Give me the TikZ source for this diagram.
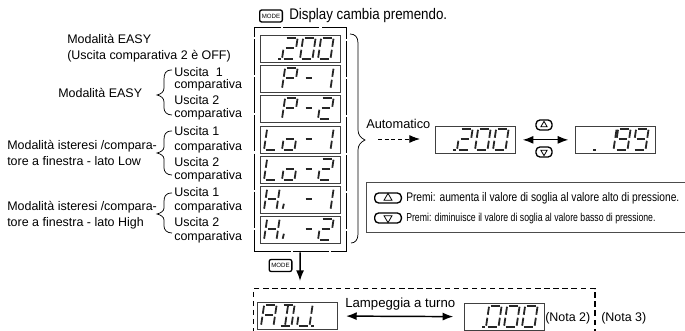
\documentclass[tikz,border=0pt]{standalone}
\usepackage{fontspec}
\setmainfont{Liberation Sans}
\usetikzlibrary{shapes.geometric,arrows.meta}
% seven segment pieces, local units, base line of the digit at 0
\def\sega{(1.5,-21) -- (11,-21)}
\def\segb{(12.5,-20) -- (12.5,-12)}
\def\segc{(12.5,-9) -- (12.5,-1)}
\def\segd{(1.5,0) -- (11,0)}
\def\sege{(0,-9) -- (0,-1)}
\def\segf{(0,-20) -- (0,-12)}
\def\segg{(2,-10.5) -- (10.5,-10.5)}
\def\segh{(6,-20) -- (6,-12)}
\def\segi{(6,-9) -- (6,-1)}
\def\segj{(1,-6) -- (.5,-1)}
\def\segk{(-3.6,0) -- (-1.4,0)}
\def\segm{(4,-10.5) -- (10,-10.5)}
\newcommand{\segdigit}[3]{%
  \begin{scope}[shift={(#1.south west)},shift={(#2,-4)},xslant=.15]
    \foreach \segname in {#3} {\draw[seg] \csname seg\segname\endcsname;}
  \end{scope}}
\newcommand{\narrowtext}[2][.8]{\scalebox{#1}[1]{#2}}
\tikzset{
  seg/.style={line width=1.35pt,black!85},
  lcd/.style={draw,black!75,line width=.8pt,anchor=north west,inner sep=0,minimum width=60pt,minimum height=20pt},
  lbl/.style={anchor=base west,inner sep=0,font=\fontsize{9.35}{11}\selectfont},
  brace/.style={line width=.55pt},
  modekey/.style={draw,line width=1pt,rounded corners=1.5pt,inner sep=0,minimum width=17pt,minimum height=9pt,font=\fontsize{4.6}{5}\selectfont},
  arrowkey/.style={draw,line width=1pt,rounded corners=3pt,inner sep=0},
  triup/.style={draw,regular polygon,regular polygon sides=3,inner sep=0,minimum size=#1,line width=.6pt},
  tridown/.style={triup=#1,shape border rotate=180},
  bigtip/.style={-{Latex[length=8pt,width=6pt]}},
  bothtip/.style={{Latex[length=8pt,width=6pt]}-{Latex[length=8pt,width=6pt]}},
}
\begin{document}
\begin{tikzpicture}[x=.75pt,y=-.75pt]
  \clip (0,0) rectangle (685,331);
  % mode key on top
  \node[modekey] (modetop) at (271,16) {MODE};
  \node[lbl,font=\fontsize{11.5}{12}\selectfont] (modetext) at (289,20) {\narrowtext[.87]{Display cambia premendo.}};
  % frame with the seven displays
  \node[draw,line width=1pt,dash pattern=on 27pt off 1.6pt,anchor=north west,inner sep=0,minimum width=69pt,minimum height=168pt] (frame) at (254,27) {};
  \node[lcd] (lcdmain) at (260,35) {};
  \node[lcd] (lcdpa) at (260,65) {};
  \node[lcd] (lcdpb) at (260,95) {};
  \node[lcd] (lcdloa) at (260,126) {};
  \node[lcd] (lcdlob) at (260,156) {};
  \node[lcd] (lcdhia) at (260,186) {};
  \node[lcd] (lcdhib) at (260,216) {};
  % digits
  \segdigit{lcdmain}{22}{k,a,b,g,e,d}
  \segdigit{lcdmain}{40}{a,b,c,d,e,f}
  \segdigit{lcdmain}{58}{a,b,c,d,e,f}
  \segdigit{lcdpa}{22}{a,b,g,e,f}
  \segdigit{lcdpa}{40}{m}
  \segdigit{lcdpa}{58}{b,c}
  \segdigit{lcdpb}{22}{a,b,g,e,f}
  \segdigit{lcdpb}{40}{m}
  \segdigit{lcdpb}{58}{a,b,g,e,d}
  \segdigit{lcdloa}{4}{d,e,f}
  \segdigit{lcdloa}{22}{c,d,e,g}
  \segdigit{lcdloa}{40}{m}
  \segdigit{lcdloa}{58}{b,c}
  \segdigit{lcdlob}{4}{d,e,f}
  \segdigit{lcdlob}{22}{c,d,e,g}
  \segdigit{lcdlob}{40}{m}
  \segdigit{lcdlob}{58}{a,b,g,e,d}
  \segdigit{lcdhia}{4}{b,c,e,f,g}
  \segdigit{lcdhia}{22}{j}
  \segdigit{lcdhia}{40}{m}
  \segdigit{lcdhia}{58}{b,c}
  \segdigit{lcdhib}{4}{b,c,e,f,g}
  \segdigit{lcdhib}{22}{j}
  \segdigit{lcdhib}{40}{m}
  \segdigit{lcdhib}{58}{a,b,g,e,d}
  % labels on the left
  \node[lbl] (easytop) at (67,44) {Modalità EASY};
  \node[lbl] (easyoff) at (67,60) {(Uscita comparativa 2 è OFF)};
  \node[lbl] (easy) at (58,98) {Modalità EASY};
  \node[lbl] (lowa) at (7,150) {Modalità isteresi /compara-};
  \node[lbl] (lowb) at (7,166) {tore a finestra - lato Low};
  \node[lbl] (higha) at (7,211) {Modalità isteresi /compara-};
  \node[lbl] (highb) at (7,227) {tore a finestra - lato High};
  \node[lbl] (ua) at (174,77) {Uscita\ \ 1};
  \node[lbl] (ub) at (174,89) {comparativa};
  \node[lbl] (uc) at (174,105) {Uscita 2};
  \node[lbl] (ud) at (174,118) {comparativa};
  \node[lbl] (ue) at (174,136) {Uscita 1};
  \node[lbl] (uf) at (174,151) {comparativa};
  \node[lbl] (ug) at (174,167) {Uscita 2};
  \node[lbl] (uh) at (174,180) {comparativa};
  \node[lbl] (ui) at (174,197) {Uscita 1};
  \node[lbl] (uj) at (174,211) {comparativa};
  \node[lbl] (uk) at (174,227) {Uscita 2};
  \node[lbl] (ul) at (174,241) {comparativa};
  % left braces
  \draw[brace] (172,70) .. controls (165,70) and (164,74) .. (164,80) -- (164,88) .. controls (164,92) and (161,94) .. (157,95) .. controls (161,96) and (164,98) .. (164,102) -- (164,108) .. controls (164,112) and (167,115) .. (172,115);
  \draw[brace] (172,131) .. controls (165,131) and (164,135) .. (164,140) -- (164,147) .. controls (164,150) and (161,152) .. (157,153) .. controls (161,154) and (164,156) .. (164,159) -- (164,168) .. controls (164,172) and (167,175) .. (172,175);
  \draw[brace] (172,193) .. controls (165,193) and (164,197) .. (164,202) -- (164,208) .. controls (164,211) and (161,213) .. (157,214) .. controls (161,215) and (164,217) .. (164,220) -- (164,226) .. controls (164,230) and (167,233) .. (172,233);
  % big brace on the right
  \coordinate (bracetop) at (350,34);
  \coordinate (bracetip) at (365,140);
  \coordinate (bracebot) at (351,243);
  \draw[brace] (bracetop) .. controls (355,34) and (358,37) .. (358,43) -- (358,130) .. controls (358,135) and (361,138) .. (bracetip) .. controls (361,142) and (358,145) .. (358,150) -- (358,234) .. controls (358,240) and (355,243) .. (bracebot);
  % automatic change
  \node[lbl,font=\fontsize{9.6}{11}\selectfont] (auto) at (366,129) {Automatico};
  \coordinate (autoa) at (378,139);
  \coordinate (autob) at (420,139);
  \draw[densely dashed,line width=.7pt,bigtip] (autoa) -- (autob);
  \node[lcd] (lcdauto) at (435,126) {};
  \node[lcd] (lcdnext) at (575,126) {};
  \segdigit{lcdauto}{22}{k,a,b,g,e,d}
  \segdigit{lcdauto}{40}{a,b,c,d,e,f}
  \segdigit{lcdauto}{58}{a,b,c,d,e,f}
  \segdigit{lcdnext}{22}{k}
  \segdigit{lcdnext}{26}{b,c}
  \segdigit{lcdnext}{40}{a,b,c,d,f,g}
  \segdigit{lcdnext}{58}{a,b,c,d,f,g}
  \draw[line width=.9pt,bothtip,shorten <=5pt,shorten >=5pt] (lcdauto) -- (lcdnext);
  \node[arrowkey,minimum width=12pt,minimum height=7.5pt] (keyup) at (544,125) {};
  \node[triup=5.5pt] (triupa) at (544,125) {};
  \node[arrowkey,minimum width=12pt,minimum height=7.5pt] (keydown) at (544,152) {};
  \node[tridown=5.5pt] (tridowna) at (544,152) {};
  % panel with the two keys
  \node[draw,black!70,line width=.8pt,anchor=north west,inner sep=0,minimum width=250pt,minimum height=37.5pt] (panel) at (366,182) {};
  \node[arrowkey,minimum width=20pt,minimum height=7.5pt] (keyupb) at (388,198) {};
  \node[triup=7pt] (triupb) at (388,198) {};
  \node[arrowkey,minimum width=20pt,minimum height=7.5pt] (keydownb) at (388,218) {};
  \node[tridown=7pt] (tridownb) at (388,218) {};
  \node[lbl] (premiup) at (406,202) {\narrowtext[.82]{Premi: aumenta il valore di soglia al valore alto di pressione.}};
  \node[lbl,font=\fontsize{8.6}{10}\selectfont] (premidown) at (406,222) {\narrowtext[.76]{Premi: diminuisce il valore di soglia al valore basso di pressione.}};
  % adjustment part below the frame
  \node[modekey] (modelow) at (280.5,265.5) {MODE};
  \coordinate (framearrow) at (300,281);
  \draw[line width=1.1pt,bigtip] (frame) -- (framearrow);
  \node[draw,dash pattern=on 4pt off 2.8pt,line width=.9pt,anchor=north west,inner sep=0,minimum width=256pt,minimum height=50pt] (blinkbox) at (253,288) {};
  \node[lcd] (lcdadj) at (257,302) {};
  \node[lcd] (lcdzero) at (464,303) {};
  \segdigit{lcdadj}{4}{a,b,c,e,f,g}
  \segdigit{lcdadj}{22}{a,b,c,d,h,i}
  \segdigit{lcdadj}{40}{b,c,d,e}
  \segdigit{lcdadj}{58}{k}
  \segdigit{lcdzero}{22}{k,a,b,c,d,e,f}
  \segdigit{lcdzero}{40}{a,b,c,d,e,f}
  \segdigit{lcdzero}{58}{a,b,c,d,e,f}
  \node[lbl,font=\fontsize{9.9}{11}\selectfont] (blink) at (345,307) {Lampeggia a turno};
  \draw[line width=1.1pt,bothtip,shorten <=6pt,shorten >=8pt] (lcdadj) -- (lcdzero);
  \node[lbl] (notetwo) at (545,321) {(Nota 2)};
  \node[lbl] (notethree) at (601,321) {(Nota 3)};
\end{tikzpicture}
\end{document}
